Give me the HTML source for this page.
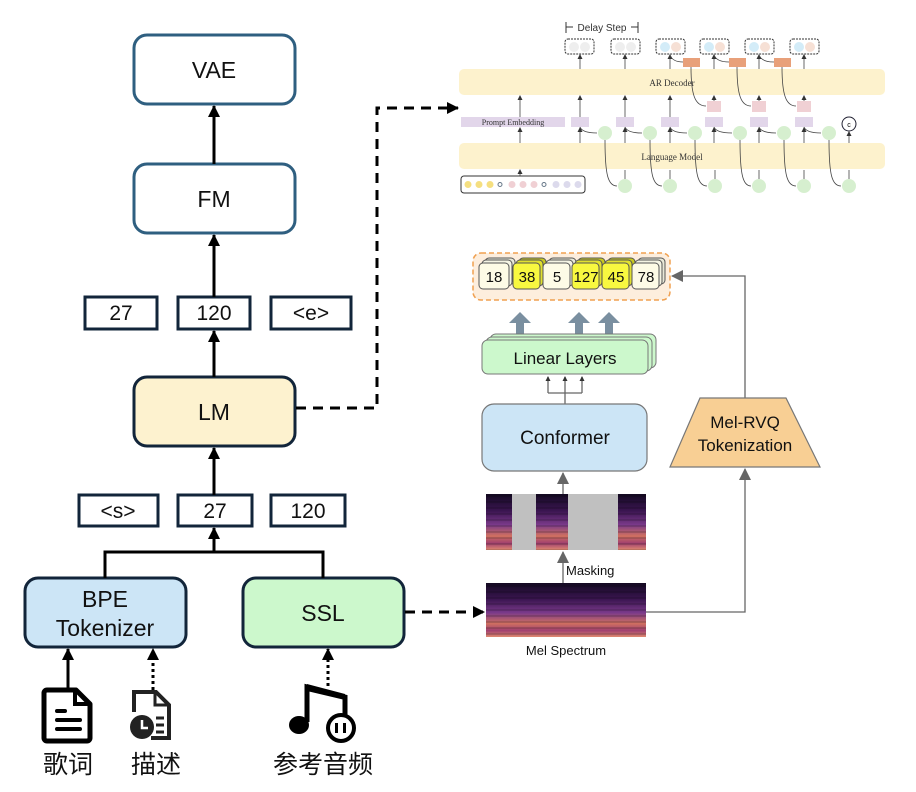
<!DOCTYPE html>
<html><head><meta charset="utf-8"><style>
html,body{margin:0;padding:0;background:#fff;}
svg{display:block;}
text{font-family:"Liberation Sans","Noto Sans CJK SC",sans-serif;}
</style></head><body>
<svg width="916" height="792" viewBox="0 0 916 792" xmlns="http://www.w3.org/2000/svg">
<defs>
<marker id="ah" markerWidth="8" markerHeight="8" refX="7" refY="4" orient="auto" markerUnits="userSpaceOnUse"><path d="M0,0 L8,4 L0,8 z" fill="#000"/></marker>
<marker id="ahb" markerWidth="12" markerHeight="12" refX="11" refY="6" orient="auto" markerUnits="userSpaceOnUse"><path d="M0,0 L12,6 L0,12 z" fill="#000"/></marker>
<marker id="ag" markerWidth="12" markerHeight="12" refX="11" refY="6" orient="auto" markerUnits="userSpaceOnUse"><path d="M0,0 L12,6 L0,12 z" fill="#666"/></marker>
<marker id="as" markerWidth="5" markerHeight="5" refX="4" refY="2.5" orient="auto" markerUnits="userSpaceOnUse"><path d="M0,0 L5,2.5 L0,5 z" fill="#333"/></marker>
<linearGradient id="spec" x1="0" y1="0" x2="0" y2="1">
<stop offset="0" stop-color="#140a22"/><stop offset="0.3" stop-color="#3a1550"/><stop offset="0.55" stop-color="#7a3a8a"/><stop offset="0.75" stop-color="#d07060"/><stop offset="0.88" stop-color="#a04070"/><stop offset="1" stop-color="#e08a70"/>
</linearGradient>
<pattern id="stripes" width="160" height="6" patternUnits="userSpaceOnUse">
<rect width="160" height="2" y="3" fill="#000" opacity="0.15"/>
</pattern>
</defs>

<!-- Left stack -->
<g stroke="#2f5f80" stroke-width="3" fill="#fff">
<rect x="134" y="35" width="161" height="69" rx="13"/>
<rect x="134" y="164" width="161" height="69" rx="13"/>
</g>
<rect x="134" y="377" width="161" height="69" rx="13" fill="#fdf2cf" stroke="#12253a" stroke-width="3"/>
<rect x="25" y="578" width="161" height="69" rx="13" fill="#cce5f6" stroke="#12253a" stroke-width="3"/>
<rect x="243" y="578" width="161" height="69" rx="13" fill="#ccf8cc" stroke="#12253a" stroke-width="3"/>
<g font-size="23" text-anchor="middle" fill="#111">
<text x="214" y="78">VAE</text>
<text x="214" y="207">FM</text>
<text x="214" y="420">LM</text>
<text x="105" y="607">BPE</text>
<text x="105" y="636">Tokenizer</text>
<text x="323" y="621">SSL</text>
</g>
<g stroke="#12253a" stroke-width="3" fill="#fff">
<rect x="85" y="297" width="72" height="32"/>
<rect x="178" y="297" width="72" height="32"/>
<rect x="271" y="297" width="80" height="32"/>
<rect x="79" y="495" width="79" height="31"/>
<rect x="178" y="495" width="74" height="31"/>
<rect x="271" y="495" width="74" height="31"/>
</g>
<g font-size="21" text-anchor="middle" fill="#111">
<text x="121" y="320">27</text><text x="214" y="320">120</text><text x="311" y="320">&lt;e&gt;</text>
<text x="118" y="518">&lt;s&gt;</text><text x="215" y="518">27</text><text x="308" y="518">120</text>
</g>
<g stroke="#000" stroke-width="3" fill="none">
<line x1="214" y1="164" x2="214" y2="106" marker-end="url(#ahb)"/>
<line x1="214" y1="297" x2="214" y2="235" marker-end="url(#ahb)"/>
<line x1="214" y1="377" x2="214" y2="331" marker-end="url(#ahb)"/>
<line x1="214" y1="495" x2="214" y2="448" marker-end="url(#ahb)"/>
<polyline points="105,578 105,552 323,552 323,578"/>
<line x1="214" y1="552" x2="214" y2="528" marker-end="url(#ahb)"/>
<line x1="68" y1="690" x2="68" y2="649" marker-end="url(#ahb)"/>
<line x1="153" y1="690" x2="153" y2="649" stroke-dasharray="3,3" marker-end="url(#ahb)"/>
<line x1="328" y1="686" x2="328" y2="649" stroke-dasharray="3,3" marker-end="url(#ahb)"/>
<polyline points="296,408 377,408 377,108 458,108" stroke-dasharray="10,7" marker-end="url(#ahb)"/>
<line x1="405" y1="612" x2="484" y2="612" stroke-dasharray="10,7" marker-end="url(#ahb)"/>
</g>

<!-- Icons -->
<g>
<path d="M47,690 h29 l14,14 v34 a3,3 0 0 1 -3,3 h-40 a3,3 0 0 1 -3,-3 v-45 a3,3 0 0 1 3,-3z" fill="none" stroke="#000" stroke-width="5" stroke-linejoin="round"/>
<path d="M75,690 v14 h14" fill="none" stroke="#000" stroke-width="4"/>
<g stroke="#000" stroke-width="4" stroke-linecap="round"><line x1="57" y1="711" x2="65" y2="711"/><line x1="57" y1="720" x2="80" y2="720"/><line x1="57" y1="729" x2="80" y2="729"/></g>
<path d="M134,712 v-20 h22 l13,13 v33 h-18" fill="none" stroke="#222" stroke-width="4"/>
<path d="M155,692 v13 h13" fill="none" stroke="#222" stroke-width="3"/>
<g stroke="#222" stroke-width="3"><line x1="156" y1="718" x2="164" y2="718"/><line x1="156" y1="725" x2="164" y2="725"/><line x1="156" y1="732" x2="164" y2="732"/></g>
<circle cx="142" cy="727" r="12" fill="#222"/>
<path d="M142,720 v8 h6" stroke="#fff" stroke-width="2.5" fill="none"/>
<path d="M307,722 v-35 l38,10 v22" fill="none" stroke="#000" stroke-width="5"/>
<path d="M307,684 l38,10 v6 l-38,-9z" fill="#000"/>
<ellipse cx="299" cy="725" rx="10" ry="9" fill="#000"/>
<circle cx="341" cy="728" r="13" fill="#fff" stroke="#000" stroke-width="4"/>
<rect x="335" y="723" width="3" height="10" fill="#000"/><rect x="343" y="723" width="3" height="10" fill="#000"/>
</g>
<g font-size="25" text-anchor="middle" fill="#111">
<text x="68" y="773">歌词</text><text x="156" y="773">描述</text><text x="323" y="773">参考音频</text>
</g>

<!-- Top-right AR panel -->
<rect x="459" y="69" width="426" height="26" rx="5" fill="#fdf2cd"/>
<rect x="459" y="143" width="426" height="26" rx="5" fill="#fdf2cd"/>
<text x="672" y="86" font-size="9" text-anchor="middle" fill="#333" style="font-family:'Liberation Serif',serif">AR Decoder</text>
<text x="672" y="160" font-size="9" text-anchor="middle" fill="#333" style="font-family:'Liberation Serif',serif">Language Model</text>
<rect x="461" y="117" width="104" height="10" fill="#e2d6ea"/>
<text x="513" y="125" font-size="8" text-anchor="middle" fill="#333" style="font-family:'Liberation Serif',serif">Prompt Embedding</text>
<text x="602" y="31" font-size="10" text-anchor="middle" fill="#333">Delay Step</text>
<g stroke="#333" stroke-width="1"><line x1="566" y1="22" x2="566" y2="33"/><line x1="638" y1="22" x2="638" y2="33"/><line x1="566" y1="27" x2="573" y2="27"/><line x1="631" y1="27" x2="638" y2="27"/></g>
<g stroke="#333" stroke-width="1" stroke-dasharray="2,1" fill="#fff">
<rect x="565" y="39" width="29" height="15" rx="3"/><rect x="611" y="39" width="29" height="15" rx="3"/>
<rect x="656" y="39" width="29" height="15" rx="3"/><rect x="700" y="39" width="29" height="15" rx="3"/>
<rect x="745" y="39" width="29" height="15" rx="3"/><rect x="790" y="39" width="29" height="15" rx="3"/>
</g>
<g>
<circle cx="574" cy="47" r="5" fill="#eee"/><circle cx="585" cy="47" r="5" fill="#eee"/>
<circle cx="620" cy="47" r="5" fill="#eee"/><circle cx="631" cy="47" r="5" fill="#eee"/>
<circle cx="665" cy="47" r="5" fill="#d3ecf8"/><circle cx="676" cy="47" r="5" fill="#f6e0d5"/>
<circle cx="709" cy="47" r="5" fill="#d3ecf8"/><circle cx="720" cy="47" r="5" fill="#f6e0d5"/>
<circle cx="754" cy="47" r="5" fill="#d3ecf8"/><circle cx="765" cy="47" r="5" fill="#f6e0d5"/>
<circle cx="799" cy="47" r="5" fill="#d3ecf8"/><circle cx="810" cy="47" r="5" fill="#f6e0d5"/>
</g>
<g fill="#e8a07a"><rect x="683" y="58" width="17" height="9"/><rect x="729" y="58" width="17" height="9"/><rect x="774" y="58" width="17" height="9"/></g>
<g fill="#f0d0d4"><rect x="707" y="101" width="14" height="11"/><rect x="752" y="101" width="14" height="11"/><rect x="797" y="101" width="14" height="11"/></g>
<g fill="#e2d6ea"><rect x="571" y="117" width="18" height="10"/><rect x="616" y="117" width="18" height="10"/><rect x="661" y="117" width="18" height="10"/><rect x="705" y="117" width="18" height="10"/><rect x="750" y="117" width="18" height="10"/><rect x="795" y="117" width="18" height="10"/></g>
<g fill="#d6efcf"><circle cx="605" cy="133" r="7"/><circle cx="650" cy="133" r="7"/><circle cx="695" cy="133" r="7"/><circle cx="740" cy="133" r="7"/><circle cx="784" cy="133" r="7"/><circle cx="829" cy="133" r="7"/>
<circle cx="625" cy="186" r="7"/><circle cx="670" cy="186" r="7"/><circle cx="715" cy="186" r="7"/><circle cx="759" cy="186" r="7"/><circle cx="804" cy="186" r="7"/><circle cx="849" cy="186" r="7"/></g>
<circle cx="849" cy="124" r="7" fill="#fff" stroke="#223" stroke-width="1"/>
<text x="849" y="127" font-size="7" text-anchor="middle">c</text>
<g stroke="#444" stroke-width="0.8" fill="none">
<line x1="520" y1="143" x2="520" y2="128" marker-end="url(#as)"/><line x1="520" y1="117" x2="520" y2="96" marker-end="url(#as)"/>
<line x1="520" y1="176" x2="520" y2="170" marker-end="url(#as)"/>
<line x1="580" y1="143" x2="580" y2="128" marker-end="url(#as)"/><line x1="580" y1="117" x2="580" y2="96" marker-end="url(#as)"/><line x1="580" y1="69" x2="580" y2="55" marker-end="url(#as)"/>
<line x1="625" y1="143" x2="625" y2="128" marker-end="url(#as)"/><line x1="625" y1="117" x2="625" y2="96" marker-end="url(#as)"/><line x1="625" y1="69" x2="625" y2="55" marker-end="url(#as)"/>
<line x1="670" y1="143" x2="670" y2="128" marker-end="url(#as)"/><line x1="670" y1="117" x2="670" y2="96" marker-end="url(#as)"/><line x1="670" y1="69" x2="670" y2="55" marker-end="url(#as)"/>
<line x1="714" y1="143" x2="714" y2="128" marker-end="url(#as)"/><line x1="714" y1="101" x2="714" y2="96" marker-end="url(#as)"/><line x1="714" y1="69" x2="714" y2="55" marker-end="url(#as)"/>
<line x1="759" y1="143" x2="759" y2="128" marker-end="url(#as)"/><line x1="759" y1="101" x2="759" y2="96" marker-end="url(#as)"/><line x1="759" y1="69" x2="759" y2="55" marker-end="url(#as)"/>
<line x1="804" y1="143" x2="804" y2="128" marker-end="url(#as)"/><line x1="804" y1="101" x2="804" y2="96" marker-end="url(#as)"/><line x1="804" y1="69" x2="804" y2="55" marker-end="url(#as)"/>
<line x1="849" y1="143" x2="849" y2="132" marker-end="url(#as)"/>
<line x1="670" y1="179" x2="670" y2="170"/><line x1="625" y1="179" x2="625" y2="170"/><line x1="715" y1="179" x2="715" y2="170"/><line x1="759" y1="179" x2="759" y2="170"/><line x1="804" y1="179" x2="804" y2="170"/><line x1="849" y1="179" x2="849" y2="170"/>
<path d="M605,140 C605,175 608,186 617,186"/><path d="M650,140 C650,175 653,186 662,186"/><path d="M695,140 C695,175 698,186 707,186"/><path d="M740,140 C740,175 743,186 751,186"/><path d="M784,140 C784,175 787,186 796,186"/><path d="M829,140 C829,175 832,186 841,186"/>
<path d="M691,67 C691,95 695,106 706,106"/><path d="M737,67 C737,95 741,106 751,106"/><path d="M782,67 C782,95 786,106 796,106"/>
<path d="M580,127 C582,132 590,133 597,133"/><path d="M625,127 C627,132 635,133 642,133"/><path d="M670,127 C672,132 680,133 687,133"/><path d="M714,127 C716,132 724,133 732,133"/><path d="M759,127 C761,132 769,133 776,133"/><path d="M804,127 C806,132 814,133 821,133"/>
<path d="M670,55 C672,60 676,62 683,62"/><path d="M714,55 C716,60 722,62 729,62"/><path d="M759,55 C761,60 767,62 774,62"/>
</g>
<rect x="461" y="176" width="124" height="17" rx="3" fill="#fff" stroke="#333" stroke-width="1"/>
<g><circle cx="468" cy="184.5" r="3.5" fill="#f5df80"/><circle cx="479" cy="184.5" r="3.5" fill="#f5df80"/><circle cx="490" cy="184.5" r="3.5" fill="#f5df80"/>
<circle cx="512" cy="184.5" r="3.5" fill="#f0d0d4"/><circle cx="523" cy="184.5" r="3.5" fill="#f0d0d4"/><circle cx="534" cy="184.5" r="3.5" fill="#f0d0d4"/>
<circle cx="556" cy="184.5" r="3.5" fill="#dcdaec"/><circle cx="567" cy="184.5" r="3.5" fill="#dcdaec"/><circle cx="578" cy="184.5" r="3.5" fill="#dcdaec"/>
<circle cx="500" cy="184.5" r="2" fill="none" stroke="#678"/><circle cx="544" cy="184.5" r="2" fill="none" stroke="#678"/></g>

<!-- Bottom-right -->
<rect x="473" y="253" width="197" height="47" rx="8" fill="#fdeedd" stroke="#f0a050" stroke-width="1.5" stroke-dasharray="5,3"/>
<g stroke="#555" stroke-width="1">
<rect x="485" y="258" width="30" height="26" rx="4" fill="#e8e8d8"/><rect x="482" y="260" width="30" height="26" rx="4" fill="#f4f4e4"/><rect x="479" y="263" width="30" height="26" rx="4" fill="#fdfbe6"/>
<rect x="519" y="258" width="27" height="26" rx="4" fill="#c8c820"/><rect x="516" y="260" width="27" height="26" rx="4" fill="#e0e030"/><rect x="513" y="263" width="27" height="26" rx="4" fill="#f8f840"/>
<rect x="549" y="258" width="27" height="26" rx="4" fill="#e8e8d8"/><rect x="546" y="260" width="27" height="26" rx="4" fill="#f4f4e4"/><rect x="543" y="263" width="27" height="26" rx="4" fill="#fdfbe6"/>
<rect x="578" y="258" width="27" height="26" rx="4" fill="#c8c820"/><rect x="575" y="260" width="27" height="26" rx="4" fill="#e0e030"/><rect x="572" y="263" width="27" height="26" rx="4" fill="#f8f840"/>
<rect x="608" y="258" width="27" height="26" rx="4" fill="#c8c820"/><rect x="605" y="260" width="27" height="26" rx="4" fill="#e0e030"/><rect x="602" y="263" width="27" height="26" rx="4" fill="#f8f840"/>
<rect x="638" y="258" width="27" height="26" rx="4" fill="#e8e8d8"/><rect x="635" y="260" width="27" height="26" rx="4" fill="#f4f4e4"/><rect x="632" y="263" width="27" height="26" rx="4" fill="#fdfbe6"/>
</g>
<g font-size="15" text-anchor="middle" fill="#111">
<text x="494" y="282">18</text><text x="527" y="282">38</text><text x="557" y="282">5</text><text x="586" y="282">127</text><text x="616" y="282">45</text><text x="646" y="282">78</text>
</g>
<g fill="#7a8fa0">
<path d="M516,335 v-12 h-7 l11,-11 l11,11 h-7 v12z"/>
<path d="M575,335 v-12 h-7 l11,-11 l11,11 h-7 v12z"/>
<path d="M605,335 v-12 h-7 l11,-11 l11,11 h-7 v12z"/>
</g>
<g stroke="#777" stroke-width="1">
<rect x="490" y="334" width="166" height="34" rx="6" fill="#ccf8cc"/>
<rect x="486" y="337" width="166" height="34" rx="6" fill="#ccf8cc"/>
<rect x="482" y="340" width="166" height="34" rx="6" fill="#ccf8cc"/>
</g>
<text x="565" y="364" font-size="17" text-anchor="middle" fill="#111">Linear Layers</text>
<g stroke="#666" stroke-width="1.3" fill="none">
<polyline points="565,404 565,393"/><polyline points="548,393 582,393"/>
<line x1="548" y1="393" x2="548" y2="377" marker-end="url(#as)"/><line x1="565" y1="393" x2="565" y2="377" marker-end="url(#as)"/><line x1="582" y1="393" x2="582" y2="377" marker-end="url(#as)"/>
</g>
<rect x="482" y="404" width="165" height="67" rx="12" fill="#cce5f6" stroke="#777" stroke-width="1.2"/>
<text x="565" y="444" font-size="19" text-anchor="middle" fill="#111">Conformer</text>
<rect x="486" y="494" width="160" height="56" fill="url(#spec)"/>
<rect x="486" y="494" width="160" height="56" fill="url(#stripes)"/>
<rect x="512" y="494" width="24" height="56" fill="#c0c0c0"/>
<rect x="568" y="494" width="50" height="56" fill="#c0c0c0"/>
<rect x="486" y="583" width="160" height="54" fill="url(#spec)"/>
<rect x="486" y="583" width="160" height="54" fill="url(#stripes)"/>
<g stroke="#666" stroke-width="1.3" fill="none">
<line x1="563" y1="494" x2="563" y2="473" marker-end="url(#ag)"/>
<line x1="563" y1="583" x2="563" y2="552" marker-end="url(#ag)"/>
<polyline points="646,612 745,612 745,469" marker-end="url(#ag)"/>
<polyline points="745,398 745,276 672,276" marker-end="url(#ag)"/>
</g>
<path d="M700,398 L786,398 L820,467 L670,467z" fill="#f8cf94" stroke="#777" stroke-width="1.2"/>
<text x="745" y="428" font-size="17" text-anchor="middle" fill="#111">Mel-RVQ</text>
<text x="745" y="451" font-size="17" text-anchor="middle" fill="#111">Tokenization</text>
<text x="566" y="575" font-size="13" fill="#111">Masking</text>
<text x="566" y="655" font-size="13" text-anchor="middle" fill="#111">Mel Spectrum</text>
</svg>
</body></html>
